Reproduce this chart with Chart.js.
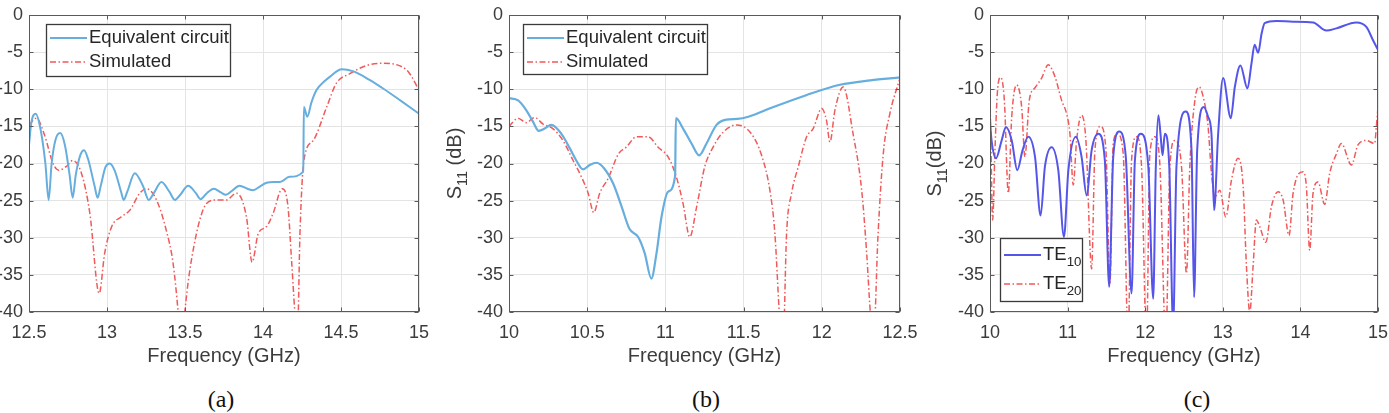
<!DOCTYPE html>
<html>
<head>
<meta charset="utf-8">
<script src="https://cdn.jsdelivr.net/npm/chart.js@4/dist/chart.umd.min.js"></script>
<style>
  body { margin: 0; background: #fff; width: 1389px; height: 413px; overflow: hidden; position: relative; }
  canvas { position: absolute; top: 0; }
  .cap { position: absolute; top: 386px; font: 24px "Liberation Serif", "Times New Roman", serif; color: #111; transform: translateX(-50%); }
</style>
</head>
<body>
<canvas id="cA" width="440" height="370" style="left:0px"></canvas>
<canvas id="cB" width="490" height="370" style="left:440px"></canvas>
<canvas id="cC" width="484" height="370" style="left:905px"></canvas>
<div class="cap" style="left:221px">(a)</div>
<div class="cap" style="left:706px">(b)</div>
<div class="cap" style="left:1197px">(c)</div>
<script>
// ---- data ----
const yTicks = [0, -5, -10, -15, -20, -25, -30, -35, -40];
const xTicksA = [12.5, 13, 13.5, 14, 14.5, 15];
const xTicksB = [10, 10.5, 11, 11.5, 12, 12.5];
const xTicksC = [10, 11, 12, 13, 14, 15];

// (a) equivalent circuit
const aEqFreq = [12.5, 12.515, 12.543, 12.575, 12.605, 12.626, 12.645, 12.67, 12.70, 12.73, 12.76, 12.78, 12.80, 12.83, 12.853,
  12.88, 12.92, 12.94, 12.96, 12.99, 13.018, 13.05, 13.09, 13.107, 13.13, 13.178, 13.23, 13.268, 13.30, 13.349,
  13.40, 13.435, 13.47, 13.52, 13.57, 13.599, 13.64, 13.685, 13.73, 13.762, 13.80, 13.85, 13.90, 13.937, 13.98,
  14.023, 14.07, 14.108, 14.17, 14.258, 14.262, 14.284, 14.31, 14.343, 14.39, 14.43, 14.504, 14.58, 14.68, 14.77, 14.88, 15.0];
const aEqS11 = [-17.5, -14.5, -13.3, -15.5, -20, -24.9, -20, -16.8, -15.9, -17.5, -21.5, -24.6, -21.5, -18.8, -18.2,
  -19.5, -23, -24.6, -23, -20.5, -20.0, -21, -23.8, -24.9, -23.8, -21.3, -23, -24.9, -24, -22.5,
  -23.8, -24.9, -24.2, -23.0, -24, -24.8, -24, -23.4, -23.9, -24.2, -23.7, -23.0, -23.4, -23.6, -23.1,
  -22.6, -22.5, -22.5, -21.8, -21.1, -12.4, -13.7, -11.8, -10.1, -9.0, -8.3, -7.3, -7.6, -8.7, -9.9, -11.5, -13.3];
// (a) simulated
const aSimFreq = [12.5, 12.547, 12.6, 12.654, 12.69, 12.74, 12.78, 12.836, 12.89, 12.95, 12.985, 13.03, 13.09, 13.146, 13.21,
  13.253, 13.317, 13.38, 13.424, 13.456, 13.478, 13.499, 13.552, 13.638, 13.70, 13.766, 13.83, 13.894, 13.93, 13.97,
  14.023, 14.065, 14.123, 14.16, 14.183, 14.204, 14.22, 14.237, 14.262, 14.322, 14.408, 14.47, 14.557, 14.664, 14.77,
  14.857, 14.93, 15.0];
const aSimS11 = [-14.8, -13.9, -16.2, -20, -20.9, -20.4, -19.6, -21.3, -26.7, -37.5, -32.1, -28.5, -27.2, -26.3, -24,
  -23.4, -24.9, -29, -33.5, -40, -46, -40, -31.7, -25.4, -24.9, -24.9, -24.0, -27.2, -33.3, -29.4,
  -28.5, -26.7, -23.4, -25.8, -33, -40, -44, -29.4, -19.6, -16.9, -12.4, -9.2, -7.9, -6.8, -6.5,
  -6.7, -7.6, -10.1];

// (b) equivalent circuit
const bEqFreq = [10.0, 10.058, 10.11, 10.154, 10.19, 10.228, 10.27, 10.335, 10.39, 10.43, 10.474, 10.516, 10.56, 10.61, 10.666,
  10.72, 10.77, 10.826, 10.868, 10.91, 10.943, 10.975, 11.017, 11.062, 11.067, 11.113, 11.167, 11.216, 11.263, 11.327,
  11.39, 11.46, 11.53, 11.69, 11.9, 12.116, 12.31, 12.5];
const bEqS11 = [-11.2, -11.5, -12.8, -14.4, -15.6, -15.3, -14.8, -16, -18, -19.6, -20.8, -20.2, -19.9, -20.7, -22.7,
  -25.8, -28.8, -29.9, -32.1, -35.5, -32.1, -27.2, -23.8, -21.7, -13.9, -15.3, -17.3, -18.9, -17.3, -14.8,
  -14.1, -14.0, -13.7, -12.4, -10.8, -9.4, -8.8, -8.4];
// (b) simulated
const bSimFreq = [10.0, 10.058, 10.11, 10.164, 10.218, 10.28, 10.345, 10.41, 10.463, 10.506, 10.542, 10.58, 10.634, 10.7, 10.75,
  10.815, 10.89, 10.953, 11.017, 11.07, 11.113, 11.156, 11.2, 11.252, 11.305, 11.36, 11.455, 11.55, 11.615, 11.668,
  11.7, 11.728, 11.75, 11.775, 11.807, 11.85, 11.903, 11.945, 11.999, 12.03, 12.052, 12.084, 12.137, 12.2, 12.255,
  12.287, 12.31, 12.33, 12.36, 12.393, 12.435, 12.5];
const bSimS11 = [-15.0, -13.9, -14.5, -13.8, -14.7, -15.3, -16.9, -19.6, -21.8, -24.0, -26.6, -24, -22, -18.7, -17.8,
  -16.4, -16.4, -17.8, -19.1, -21.8, -25.4, -29.9, -25.8, -20.4, -17.8, -16, -14.8, -16, -18.9, -23.6,
  -29.4, -40, -46, -29.4, -24, -20.4, -16.4, -15.3, -12.6, -14.2, -17.1, -12.8, -9.7, -16, -23.6,
  -32.1, -40, -44, -29.4, -18.7, -13.3, -8.5];

// (c) TE10
const cTE10Freq = [10.0, 10.02, 10.077, 10.15, 10.206, 10.28, 10.352, 10.42, 10.494, 10.58, 10.652, 10.708, 10.794, 10.88, 10.953,
  11.01, 11.107, 11.18, 11.245, 11.31, 11.395, 11.48, 11.536, 11.588, 11.665, 11.75, 11.824, 11.867, 11.944, 12.04,
  12.103, 12.137, 12.17, 12.197, 12.223, 12.253, 12.31, 12.36, 12.403, 12.524, 12.597, 12.63, 12.67, 12.755, 12.81,
  12.854, 12.888, 12.94, 13.004, 13.103, 13.155, 13.227, 13.318, 13.37, 13.41, 13.455, 13.5, 13.54, 13.69, 13.906,
  14.163, 14.335, 14.464, 14.72, 14.85, 14.936, 15.0];
const cTE10S11 = [-14.4, -16.9, -19.3, -16.9, -15.1, -16.9, -20.9, -18.2, -16.4, -19.1, -27, -20.4, -17.8, -20.9, -29.9,
  -20.9, -16.4, -19.1, -24.3, -18.2, -16, -19.6, -36.6, -19.1, -15.7, -19.1, -37.5, -19.6, -16, -20.4,
  -38.2, -20.4, -13.5, -16, -18.9, -16, -20.4, -42, -20.4, -13, -18.2, -38, -18.2, -12.4, -13.7,
  -16, -26.3, -16, -8.5, -13.9, -9.7, -6.8, -9.9, -6.5, -4.0, -5.1, -2.5, -1.1, -0.8, -0.9,
  -1.0, -2.1, -1.8, -1.0, -1.6, -3.4, -4.7];
// (c) TE20
const cTE20Freq = [10.0, 10.013, 10.034, 10.064, 10.094, 10.137, 10.185, 10.236, 10.28, 10.343, 10.408, 10.45, 10.506, 10.58, 10.665,
  10.75, 10.837, 10.923, 10.987, 11.03, 11.073, 11.116, 11.18, 11.236, 11.31, 11.352, 11.425, 11.494, 11.545, 11.588,
  11.64, 11.717, 11.78, 11.824, 11.888, 11.953, 12.017, 12.06, 12.124, 12.19, 12.266, 12.318, 12.382, 12.468, 12.532,
  12.575, 12.64, 12.695, 12.747, 12.811, 12.854, 12.897, 12.961, 13.039, 13.112, 13.197, 13.262, 13.305, 13.348, 13.39,
  13.433, 13.476, 13.554, 13.627, 13.712, 13.777, 13.854, 13.906, 14.034, 14.077, 14.12, 14.163, 14.227, 14.313, 14.378,
  14.464, 14.528, 14.657, 14.742, 14.85, 14.957, 14.979, 15.0];
const cTE20S11 = [-10.6, -18.2, -27.6, -18.2, -10.6, -8.4, -11.5, -24.0, -13.7, -9.4, -12.4, -19.1, -11.5, -9.8, -8.5,
  -6.7, -8.3, -11.5, -13.3, -16, -22.9, -16.9, -13.5, -16.9, -34.2, -18.2, -15, -18.2, -36.2, -17.3,
  -16, -18.7, -44, -19.6, -16.4, -20.4, -44, -18.7, -16.4, -20.4, -44, -20.4, -16.9, -20.4, -34.8,
  -20.4, -11.5, -9.7, -11, -15.1, -21.3, -24.5, -23.6, -27.2, -22.2, -19.3, -23.1, -33.9, -40, -33.9,
  -27.6, -28.5, -30.6, -25.8, -23.8, -24.9, -29.7, -24, -21.1, -23.1, -31.7, -24, -22.5, -25.5, -21.3,
  -18.7, -17.3, -20.2, -17.5, -16.9, -17.3, -15, -12.4];

// ---- styling ----
const FONT = '"Liberation Sans", Arial, sans-serif';
const TXT = "#3c3c3c";
const EQ_BLUE = "#66aede";
const SIM_RED = "#f05a5a";
const TE_BLUE = "#5555ea";
const DASHDOT = [6, 2.5, 1.5, 2.5];

function pts(xs, ys) {
  return xs.map((x, i) => ({ x, y: ys[i] }));
}

function series(label, xs, ys, color, width, dash) {
  return {
    label,
    data: pts(xs, ys),
    borderColor: color,
    borderWidth: width,
    borderDash: dash || [],
    pointRadius: 0,
    cubicInterpolationMode: "monotone",
    fill: false,
  };
}

function drawSub(ctx, x, y, base, sub, rest, size) {
  ctx.font = `${size}px ${FONT}`;
  ctx.textBaseline = "middle";
  ctx.textAlign = "left";
  ctx.fillText(base, x, y);
  let w = ctx.measureText(base).width;
  ctx.font = `${size * 0.72}px ${FONT}`;
  ctx.fillText(sub, x + w, y + size * 0.38);
  w += ctx.measureText(sub).width;
  if (rest) {
    ctx.font = `${size}px ${FONT}`;
    ctx.fillText(rest, x + w, y);
  }
}

// frame, inward tick marks, legend and y title
const decorPlugin = {
  id: "decor",
  afterDraw(chart, args, opts) {
    const { ctx, chartArea: a, scales } = chart;
    ctx.save();
    const L = Math.round(a.left) + 0.5, R = Math.round(a.right) - 0.5;
    const T = Math.round(a.top) + 0.5, B = Math.round(a.bottom) - 0.5;
    ctx.strokeStyle = "#5a5a5a";
    ctx.lineWidth = 1;
    ctx.beginPath();
    scales.x.ticks.forEach(t => {
      const px = Math.round(scales.x.getPixelForValue(t.value)) + 0.5;
      ctx.moveTo(px, B); ctx.lineTo(px, B - 4);
      ctx.moveTo(px, T); ctx.lineTo(px, T + 4);
    });
    scales.y.ticks.forEach(t => {
      const py = Math.round(scales.y.getPixelForValue(t.value)) + 0.5;
      ctx.moveTo(L, py); ctx.lineTo(L + 4, py);
      ctx.moveTo(R, py); ctx.lineTo(R - 4, py);
    });
    ctx.stroke();
    ctx.strokeRect(L, T, R - L, B - T);

    // legend
    const lg = opts.legend;
    const bx = a.left + lg.dx;
    const by = lg.fromBottom ? a.bottom - lg.dy - lg.h : a.top + lg.dy;
    ctx.fillStyle = "#fff";
    ctx.fillRect(bx, by, lg.w, lg.h);
    ctx.strokeStyle = "#3a3a3a";
    ctx.lineWidth = 1.3;
    ctx.strokeRect(Math.round(bx) + 0.5, Math.round(by) + 0.5, lg.w, lg.h);
    chart.data.datasets.forEach((ds, i) => {
      const ry = by + lg.rows[i];
      ctx.strokeStyle = ds.borderColor;
      ctx.lineWidth = ds.borderWidth;
      ctx.setLineDash(ds.borderDash);
      ctx.beginPath();
      ctx.moveTo(bx + 4, ry);
      ctx.lineTo(bx + 41, ry);
      ctx.stroke();
      ctx.setLineDash([]);
      ctx.fillStyle = "#262626";
      const lab = lg.labels[i];
      if (lab.sub) drawSub(ctx, bx + 43, ry, lab.base, lab.sub, "", 18.5);
      else {
        ctx.font = `18.5px ${FONT}`;
        ctx.textBaseline = "middle";
        ctx.textAlign = "left";
        ctx.fillText(lab.base, bx + 43, ry);
      }
    });

    // y axis title with subscript
    if (opts.yTitle) {
      const yt = opts.yTitle;
      ctx.save();
      ctx.fillStyle = TXT;
      ctx.font = `20px ${FONT}`;
      const w1 = ctx.measureText("S").width + ctx.measureText(yt.rest).width;
      ctx.font = `${20 * 0.72}px ${FONT}`;
      const w = w1 + ctx.measureText("11").width;
      ctx.translate(yt.x, (a.top + a.bottom) / 2);
      ctx.rotate(-Math.PI / 2);
      drawSub(ctx, -w / 2, 0, "S", "11", yt.rest, 20);
      ctx.restore();
    }
    ctx.restore();
  },
};

function makeChart(id, xTicks, yAxisW, rightPad, datasets, legend, yTitle) {
  return new Chart(document.getElementById(id), {
    type: "line",
    data: { datasets },
    plugins: [decorPlugin],
    options: {
      responsive: false,
      animation: false,
      events: [],
      layout: { padding: { top: 15, right: rightPad, bottom: 0, left: 0 } },
      plugins: {
        legend: { display: false },
        tooltip: { enabled: false },
        decor: { legend, yTitle },
      },
      scales: {
        x: {
          type: "linear",
          min: xTicks[0],
          max: xTicks[xTicks.length - 1],
          afterBuildTicks: s => { s.ticks = xTicks.map(v => ({ value: v })); },
          afterFit: s => { s.height = 58; s.paddingLeft = 0; s.paddingRight = 0; },
          grid: { color: "#e4e4e4", drawTicks: false },
          border: { display: false },
          ticks: { color: TXT, font: { family: FONT, size: 18 }, padding: 10, maxRotation: 0, autoSkip: false,
            callback: v => String(v) },
          title: { display: true, text: "Frequency (GHz)", color: TXT, font: { family: FONT, size: 20 },
            padding: { top: 0, bottom: 2 } },
        },
        y: {
          min: -40,
          max: 0,
          afterBuildTicks: s => { s.ticks = yTicks.map(v => ({ value: v })); },
          afterFit: s => { s.width = yAxisW; s.paddingTop = 0; s.paddingBottom = 0; },
          grid: { color: "#e4e4e4", drawTicks: false },
          border: { display: false },
          ticks: { color: TXT, font: { family: FONT, size: 18 }, padding: 6, autoSkip: false,
            callback: v => String(v) },
        },
      },
    },
  });
}

const legAB = { dx: 17, dy: 9, w: 184, h: 52, rows: [14, 38],
  labels: [{ base: "Equivalent circuit" }, { base: "Simulated" }] };

makeChart("cA", xTicksA, 29, 21, [
  series("Equivalent circuit", aEqFreq, aEqS11, EQ_BLUE, 2),
  series("Simulated", aSimFreq, aSimS11, SIM_RED, 1.5, DASHDOT),
], legAB, null);

makeChart("cB", xTicksB, 69, 30, [
  series("Equivalent circuit", bEqFreq, bEqS11, EQ_BLUE, 2.2),
  series("Simulated", bSimFreq, bSimS11, SIM_RED, 1.5, DASHDOT),
], { ...legAB, dx: 14, h: 50 }, { x: 15, rest: " (dB)" });

makeChart("cC", xTicksC, 85, 11, [
  series("TE10", cTE10Freq, cTE10S11, TE_BLUE, 2),
  series("TE20", cTE20Freq, cTE20S11, SIM_RED, 1.5, DASHDOT),
], { dx: 10, dy: 11, fromBottom: true, w: 82, h: 63, rows: [17, 46],
  labels: [{ base: "TE", sub: "10" }, { base: "TE", sub: "20" }] }, { x: 30, rest: "(dB)" });
</script>
</body>
</html>
